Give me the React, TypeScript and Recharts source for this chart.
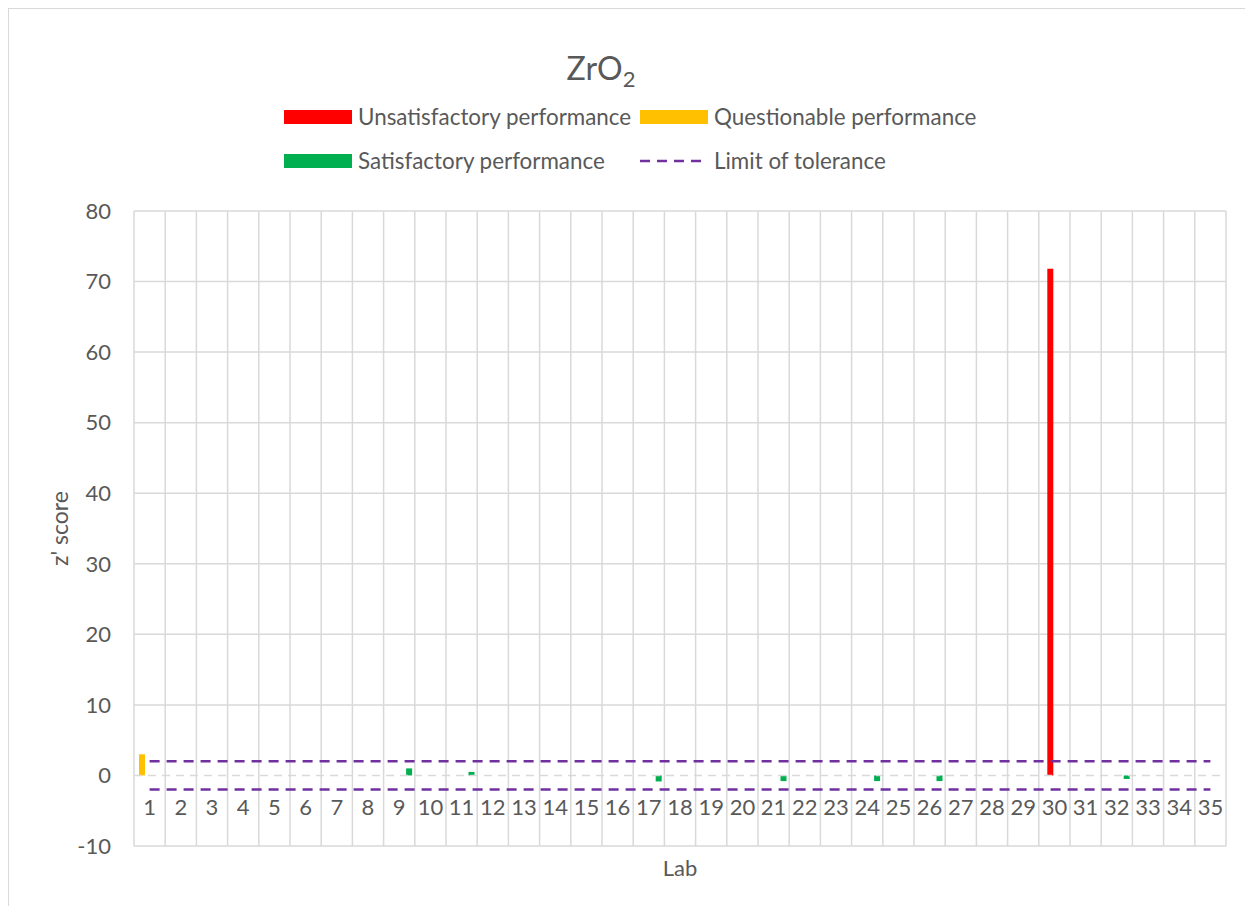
import { ComposedChart, Bar, Line, XAxis, YAxis, CartesianGrid, ReferenceLine, Legend, Rectangle } from "recharts";

const labs = ["1", "2", "3", "4", "5", "6", "7", "8", "9", "10", "11", "12", "13", "14", "15", "16", "17", "18", "19", "20", "21", "22", "23", "24", "25", "26", "27", "28", "29", "30", "31", "32", "33", "34", "35"];

const unsatisfactory = [null, null, null, null, null, null, null, null, null, null, null, null, null, null, null, null, null, null, null, null, null, null, null, null, null, null, null, null, null, 71.8, null, null, null, null, null];
const questionable = [3.0, null, null, null, null, null, null, null, null, null, null, null, null, null, null, null, null, null, null, null, null, null, null, null, null, null, null, null, null, null, null, null, null, null, null];
const satisfactory = [null, null, null, null, null, null, null, null, 1.0, null, 0.5, null, null, null, null, null, -0.85, null, null, null, -0.8, null, null, -0.8, null, -0.8, null, null, null, null, null, -0.5, null, null, null];
const upperLimit = [2, 2, 2, 2, 2, 2, 2, 2, 2, 2, 2, 2, 2, 2, 2, 2, 2, 2, 2, 2, 2, 2, 2, 2, 2, 2, 2, 2, 2, 2, 2, 2, 2, 2, 2];
const lowerLimit = [-2, -2, -2, -2, -2, -2, -2, -2, -2, -2, -2, -2, -2, -2, -2, -2, -2, -2, -2, -2, -2, -2, -2, -2, -2, -2, -2, -2, -2, -2, -2, -2, -2, -2, -2];
const yTicks = [-10, 0, 10, 20, 30, 40, 50, 60, 70, 80];
const legendOrder = ["Unsatisfactory performance", "Questionable performance", "Satisfactory performance", "Limit of tolerance"];

const data = labs.map((lab, i) => ({
  lab,
  unsat: unsatisfactory[i],
  quest: questionable[i],
  sat: satisfactory[i],
  upper: upperLimit[i],
  lower: lowerLimit[i],
}));

const FONT = "Lato, 'Open Sans', sans-serif";
const GREY = "#595959";
const GRID = "#d9d9d9";

// Excel draws each series at its own slot inside the category
const shifted = (dx: number) => (props: any) => <Rectangle {...props} x={props.x + dx} />;

const LabTick = (props: any) => {
  const { x, y, payload } = props;
  return (
    <text x={x} y={y} dy={-31} textAnchor="middle" fill={GREY} fontSize={22} fontFamily={FONT}>
      {payload.value}
    </text>
  );
};

const renderLegend = (props: any) => {
  const items = (props.payload || [])
    .filter((p: any) => legendOrder.includes(p.value))
    .sort((a: any, b: any) => legendOrder.indexOf(a.value) - legendOrder.indexOf(b.value));
  return (
    <div
      style={{
        display: "grid",
        gridTemplateColumns: "356px 356px",
        rowGap: 18,
        fontFamily: FONT,
        fontSize: 22.4,
        lineHeight: "26px",
        color: GREY,
      }}
    >
      {items.map((it: any) => (
        <div key={it.value} style={{ display: "flex", alignItems: "center", whiteSpace: "nowrap" }}>
          <svg width={68} height={16} style={{ marginRight: 6 }}>
            {it.type === "plainline" ? (
              <line x1={0} y1={8} x2={68} y2={8} stroke={it.color} strokeWidth={2.5} strokeDasharray="10 7" />
            ) : (
              <rect x={0} y={1} width={68} height={14} fill={it.color} />
            )}
          </svg>
          {it.value}
        </div>
      ))}
    </div>
  );
};

export default function App() {
  return (
    <div
      style={{
        position: "relative",
        width: 1245,
        height: 898,
        borderLeft: `1px solid ${GRID}`,
        borderTop: `1px solid ${GRID}`,
        fontFamily: FONT,
      }}
    >
      <div
        style={{
          position: "absolute",
          left: 392,
          top: 39,
          width: 400,
          textAlign: "center",
          fontSize: 32,
          lineHeight: "40px",
          color: GREY,
          zIndex: 2,
        }}
      >
        ZrO<sub style={{ fontSize: 22 }}>2</sub>
      </div>
      <ComposedChart
        width={1236}
        height={890}
        data={data}
        margin={{ top: 202, right: 19, bottom: 0, left: 0 }}
      >
        <CartesianGrid
          stroke={GRID}
          strokeWidth={1.5}
          horizontalValues={[-10, 10, 20, 30, 40, 50, 60, 70, 80]}
          verticalCoordinatesGenerator={({ offset }: any) =>
            [...labs, "end"].map((_, i) => offset.left + (i * offset.width) / labs.length)
          }
        />
        <XAxis
          dataKey="lab"
          interval={0}
          height={53}
          tickSize={0}
          tickMargin={0}
          axisLine={false}
          tickLine={false}
          tick={<LabTick />}
          label={{ value: "Lab", position: "insideBottom", offset: 23, fill: GREY, fontSize: 22, fontFamily: FONT }}
        />
        <YAxis
          width={125}
          domain={[-10, 80]}
          ticks={yTicks}
          interval={0}
          tickSize={0}
          tickMargin={23}
          axisLine={false}
          tickLine={false}
          tick={{ fill: GREY, fontSize: 22, fontFamily: FONT }}
          label={{
            value: "z' score",
            angle: -90,
            position: "insideLeft",
            offset: 51,
            fontSize: 23,
            fill: GREY,
            fontFamily: FONT,
            style: { textAnchor: "middle", fill: GREY, fontSize: 23, fontFamily: FONT },
          }}
        />
        <ReferenceLine y={0} stroke={GRID} strokeWidth={1.5} strokeDasharray="8 6" />
        <Legend
          layout="horizontal"
          verticalAlign="middle"
          align="center"
          content={renderLegend}
          wrapperStyle={{ top: 95, left: 275, width: 720, height: 70 }}
        />
        <Bar dataKey="unsat" name="Unsatisfactory performance" stackId="z" barSize={6} fill="#FF0000" shape={shifted(-4.5)} isAnimationActive={false} />
        <Bar dataKey="quest" name="Questionable performance" stackId="z" barSize={6} fill="#FFC000" shape={shifted(-8)} isAnimationActive={false} />
        <Bar dataKey="sat" name="Satisfactory performance" stackId="z" barSize={6} fill="#00B050" shape={shifted(9.5)} isAnimationActive={false} />
        <Line dataKey="upper" name="Limit of tolerance" stroke="#7030A0" strokeWidth={2.5} strokeDasharray="10 7" dot={false} activeDot={false} legendType="plainline" isAnimationActive={false} />
        <Line dataKey="lower" name="Limit of tolerance (lower)" stroke="#7030A0" strokeWidth={2.5} strokeDasharray="10 7" dot={false} activeDot={false} legendType="none" isAnimationActive={false} />
      </ComposedChart>
    </div>
  );
}
